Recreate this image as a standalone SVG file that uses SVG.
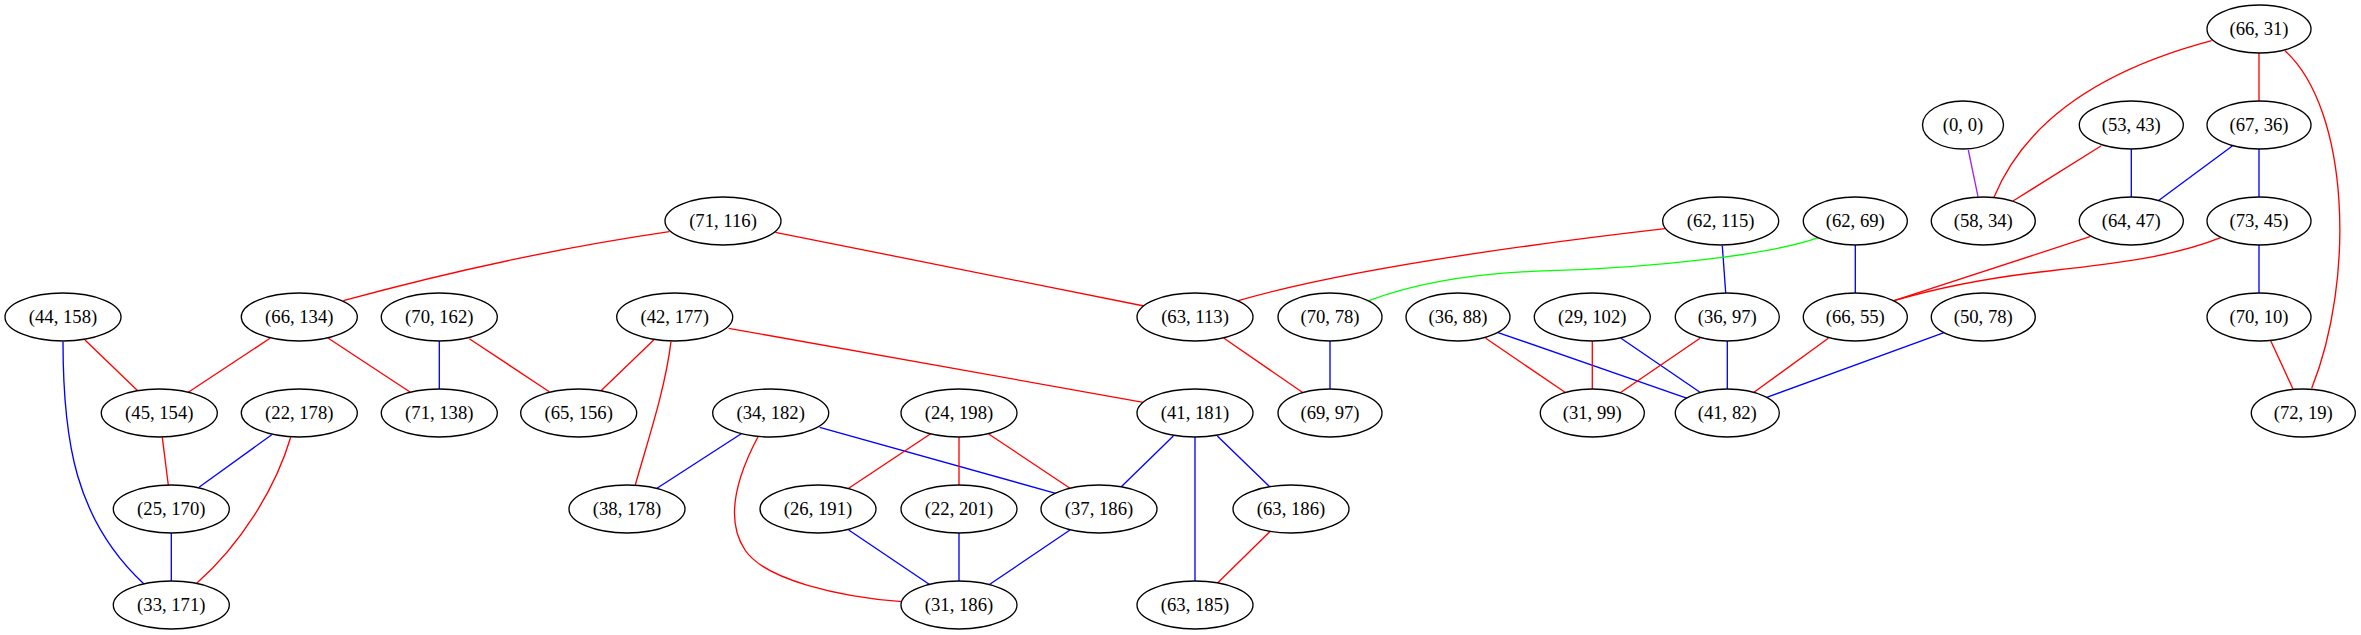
<svg xmlns="http://www.w3.org/2000/svg" width="2361" height="635" viewBox="0 0 2361 635">
<style>
.n ellipse{fill:#fff;stroke:#000;stroke-width:1.33}
.n text{font-family:"Liberation Serif","Times New Roman",serif;font-size:18.67px;text-anchor:middle;fill:#000}
.e path{fill:none;stroke-width:1.33}
.r{stroke:#ff0000}.b{stroke:#0000ff}.g{stroke:#00ff00}.p{stroke:#a020f0}
</style>
<rect width="2361" height="635" fill="#fff"/>
<g id="edges" class="e">
<path class="r" d="M2211.7,40.7 C2120,65 2030,110 1994,197.3"/>
<path class="r" d="M2259,53 L2259,101"/>
<path class="r" d="M2285,50.7 C2350,110 2355,280 2311.7,388.3"/>
<path class="p" d="M1968.3,150 L1978,196.7"/>
<path class="r" d="M2101.3,145.7 L2013,201"/>
<path class="b" d="M2131.3,149 L2131.3,197"/>
<path class="b" d="M2232.3,146 L2158.3,200.7"/>
<path class="b" d="M2259,149 L2259,197"/>
<path class="r" d="M669.3,231.7 Q510,255 343.3,300.7"/>
<path class="r" d="M775.3,232.3 L1144,306"/>
<path class="r" d="M1665,228.7 C1550,242 1350,268 1238.3,300.7"/>
<path class="b" d="M1722.3,245.7 L1725.7,292.7"/>
<path class="g" d="M1818.3,237.7 C1770,255 1650,268 1550,270.7 C1470,273 1410,285 1369,300.7"/>
<path class="b" d="M1855.3,245 L1855.3,293"/>
<path class="r" d="M2090,236.7 L1894,300.7"/>
<path class="r" d="M2220.7,237.7 C2170,258 2110,264 2040,272 C1980,279 1930,290 1894,300.7"/>
<path class="b" d="M2259,245 L2259,293"/>
<path class="r" d="M85,340 L137.7,390.7"/>
<path class="b" d="M63,341.7 C63,440 75,520 144,584"/>
<path class="r" d="M270,338.3 L188.3,392.3"/>
<path class="r" d="M328.3,338.3 L410,392"/>
<path class="b" d="M439.3,341 L439.3,389"/>
<path class="r" d="M469.3,338.7 L549.3,391.7"/>
<path class="r" d="M653.7,340 L601,390.7"/>
<path class="r" d="M671,341.7 C665,390 648,440 635.3,485"/>
<path class="r" d="M728.7,328.3 L1143.3,402.3"/>
<path class="r" d="M1224,338.3 L1302.3,392.3"/>
<path class="b" d="M1330,341 L1330,389"/>
<path class="r" d="M1485.7,338.3 L1565,392.3"/>
<path class="b" d="M1497.3,332.3 L1687.3,398.3"/>
<path class="r" d="M1592.3,341 L1592.3,389"/>
<path class="b" d="M1621,338.3 L1700,392.3"/>
<path class="r" d="M1700,338.3 L1621,392.3"/>
<path class="b" d="M1727.3,341 L1727.3,389"/>
<path class="r" d="M1828.3,338.3 L1754,392.3"/>
<path class="b" d="M1944,332.7 L1766.7,397.3"/>
<path class="r" d="M2270.7,340.7 L2293,389"/>
<path class="r" d="M162.3,437.3 L168.3,485"/>
<path class="b" d="M271.7,434.7 L199,487.3"/>
<path class="r" d="M290.7,437.3 C275,490 240,545 196.7,583.3"/>
<path class="b" d="M742,433.3 L657,488.3"/>
<path class="r" d="M758,436.7 C735,480 725,520 745,550 C765,580 840,597 902,601.7"/>
<path class="b" d="M819.7,427.3 L1055.7,493.3"/>
<path class="r" d="M930.3,434 L848.7,488.3"/>
<path class="r" d="M959,437 L959,485"/>
<path class="r" d="M988.7,434 L1070,488.3"/>
<path class="b" d="M1173.3,436 L1121.3,486.7"/>
<path class="b" d="M1195,437 L1195,581"/>
<path class="b" d="M1217.3,436 L1269.7,486.7"/>
<path class="b" d="M171.3,533 L171.3,581"/>
<path class="b" d="M848.7,530 L930.3,585"/>
<path class="b" d="M959,533 L959,581"/>
<path class="b" d="M1070,530 L988.7,585"/>
<path class="r" d="M1269.7,531.7 L1217.3,583.3"/>
</g>
<g id="n66_31" class="n"><ellipse cx="2259" cy="29" rx="52" ry="24"/><text x="2259" y="35">(66, 31)</text></g>
<g id="n0_0" class="n"><ellipse cx="1963" cy="125" rx="40.5" ry="24"/><text x="1963" y="131">(0, 0)</text></g>
<g id="n53_43" class="n"><ellipse cx="2131.3" cy="125" rx="52" ry="24"/><text x="2131.3" y="131">(53, 43)</text></g>
<g id="n67_36" class="n"><ellipse cx="2259" cy="125" rx="52" ry="24"/><text x="2259" y="131">(67, 36)</text></g>
<g id="n71_116" class="n"><ellipse cx="723" cy="221" rx="58" ry="24"/><text x="723" y="227">(71, 116)</text></g>
<g id="n62_115" class="n"><ellipse cx="1720.7" cy="221" rx="58" ry="24"/><text x="1720.7" y="227">(62, 115)</text></g>
<g id="n62_69" class="n"><ellipse cx="1855.3" cy="221" rx="52" ry="24"/><text x="1855.3" y="227">(62, 69)</text></g>
<g id="n58_34" class="n"><ellipse cx="1983.3" cy="221" rx="52" ry="24"/><text x="1983.3" y="227">(58, 34)</text></g>
<g id="n64_47" class="n"><ellipse cx="2131.3" cy="221" rx="52" ry="24"/><text x="2131.3" y="227">(64, 47)</text></g>
<g id="n73_45" class="n"><ellipse cx="2259" cy="221" rx="52" ry="24"/><text x="2259" y="227">(73, 45)</text></g>
<g id="n44_158" class="n"><ellipse cx="63" cy="317" rx="58" ry="24"/><text x="63" y="323">(44, 158)</text></g>
<g id="n66_134" class="n"><ellipse cx="299.3" cy="317" rx="58" ry="24"/><text x="299.3" y="323">(66, 134)</text></g>
<g id="n70_162" class="n"><ellipse cx="439.3" cy="317" rx="58" ry="24"/><text x="439.3" y="323">(70, 162)</text></g>
<g id="n42_177" class="n"><ellipse cx="674.7" cy="317" rx="58" ry="24"/><text x="674.7" y="323">(42, 177)</text></g>
<g id="n63_113" class="n"><ellipse cx="1195" cy="317" rx="58" ry="24"/><text x="1195" y="323">(63, 113)</text></g>
<g id="n70_78" class="n"><ellipse cx="1330" cy="317" rx="52" ry="24"/><text x="1330" y="323">(70, 78)</text></g>
<g id="n36_88" class="n"><ellipse cx="1458" cy="317" rx="52" ry="24"/><text x="1458" y="323">(36, 88)</text></g>
<g id="n29_102" class="n"><ellipse cx="1592.3" cy="317" rx="58" ry="24"/><text x="1592.3" y="323">(29, 102)</text></g>
<g id="n36_97" class="n"><ellipse cx="1727.3" cy="317" rx="52" ry="24"/><text x="1727.3" y="323">(36, 97)</text></g>
<g id="n66_55" class="n"><ellipse cx="1855.3" cy="317" rx="52" ry="24"/><text x="1855.3" y="323">(66, 55)</text></g>
<g id="n50_78" class="n"><ellipse cx="1983.3" cy="317" rx="52" ry="24"/><text x="1983.3" y="323">(50, 78)</text></g>
<g id="n70_10" class="n"><ellipse cx="2259" cy="317" rx="52" ry="24"/><text x="2259" y="323">(70, 10)</text></g>
<g id="n45_154" class="n"><ellipse cx="159.3" cy="413" rx="58" ry="24"/><text x="159.3" y="419">(45, 154)</text></g>
<g id="n22_178" class="n"><ellipse cx="299.3" cy="413" rx="58" ry="24"/><text x="299.3" y="419">(22, 178)</text></g>
<g id="n71_138" class="n"><ellipse cx="439.3" cy="413" rx="58" ry="24"/><text x="439.3" y="419">(71, 138)</text></g>
<g id="n65_156" class="n"><ellipse cx="578.7" cy="413" rx="58" ry="24"/><text x="578.7" y="419">(65, 156)</text></g>
<g id="n34_182" class="n"><ellipse cx="770.7" cy="413" rx="58" ry="24"/><text x="770.7" y="419">(34, 182)</text></g>
<g id="n24_198" class="n"><ellipse cx="959" cy="413" rx="58" ry="24"/><text x="959" y="419">(24, 198)</text></g>
<g id="n41_181" class="n"><ellipse cx="1195" cy="413" rx="58" ry="24"/><text x="1195" y="419">(41, 181)</text></g>
<g id="n69_97" class="n"><ellipse cx="1330" cy="413" rx="52" ry="24"/><text x="1330" y="419">(69, 97)</text></g>
<g id="n31_99" class="n"><ellipse cx="1592.3" cy="413" rx="52" ry="24"/><text x="1592.3" y="419">(31, 99)</text></g>
<g id="n41_82" class="n"><ellipse cx="1727.3" cy="413" rx="52" ry="24"/><text x="1727.3" y="419">(41, 82)</text></g>
<g id="n72_19" class="n"><ellipse cx="2303.3" cy="413" rx="52" ry="24"/><text x="2303.3" y="419">(72, 19)</text></g>
<g id="n25_170" class="n"><ellipse cx="171.3" cy="509" rx="58" ry="24"/><text x="171.3" y="515">(25, 170)</text></g>
<g id="n38_178" class="n"><ellipse cx="627" cy="509" rx="58" ry="24"/><text x="627" y="515">(38, 178)</text></g>
<g id="n26_191" class="n"><ellipse cx="818" cy="509" rx="58" ry="24"/><text x="818" y="515">(26, 191)</text></g>
<g id="n22_201" class="n"><ellipse cx="959" cy="509" rx="58" ry="24"/><text x="959" y="515">(22, 201)</text></g>
<g id="n37_186" class="n"><ellipse cx="1099" cy="509" rx="58" ry="24"/><text x="1099" y="515">(37, 186)</text></g>
<g id="n63_186" class="n"><ellipse cx="1291" cy="509" rx="58" ry="24"/><text x="1291" y="515">(63, 186)</text></g>
<g id="n33_171" class="n"><ellipse cx="171.3" cy="605" rx="58" ry="24"/><text x="171.3" y="611">(33, 171)</text></g>
<g id="n31_186" class="n"><ellipse cx="959" cy="605" rx="58" ry="24"/><text x="959" y="611">(31, 186)</text></g>
<g id="n63_185" class="n"><ellipse cx="1195" cy="605" rx="58" ry="24"/><text x="1195" y="611">(63, 185)</text></g>
</svg>
